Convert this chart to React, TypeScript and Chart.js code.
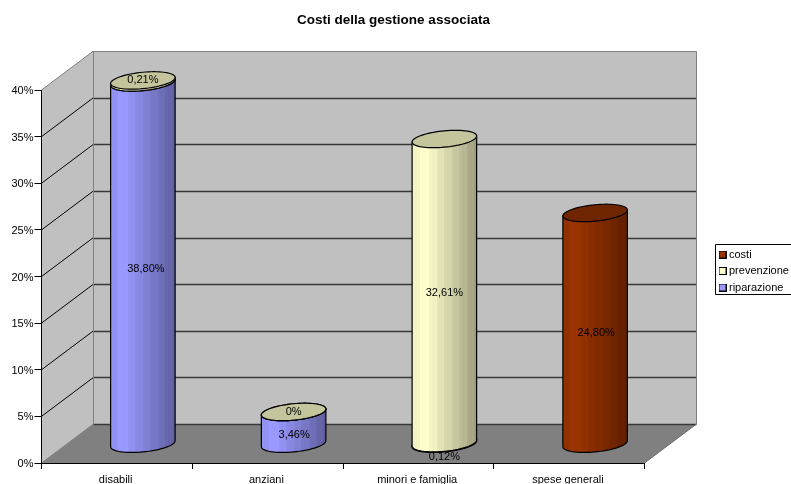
import React, { useEffect, useRef } from "react";
import { Chart, registerables } from "chart.js";

Chart.register(...registerables);

const categories = ["disabili", "anziani", "minori e famiglia", "spese generali"];
const riparazione = [38.8, 3.46, 0.12, null];
const prevenzione = [0.21, 0, 32.61, null];
const costi = [null, null, null, 24.8];
const riparazioneLabels = ["38,80%", "3,46%", "0,12%", null];
const prevenzioneLabels = ["0,21%", "0%", "32,61%", null];
const costiLabels = [null, null, null, "24,80%"];
const yTicksMax = 40;
const yTicksStep = 5;

const FONT = "'Liberation Sans', Arial, sans-serif";
const DX = 52;
const DY = -39;
const RX_TILT = 3;
const RY = 8.2;
const LIFT = 0.7;

const labelNudge = [
  [6.4, 6.7, 14, 0],
  [-1.5, 0, 1.6, 0],
  [0, 0, 0, 5],
];
const labelNudgeX = [
  [3, 0.5, 0, 0],
  [0, 0, 0, 0],
  [0, 0, 0, 1],
];

function rgb(hex: string) {
  const n = parseInt(hex.slice(1), 16);
  return [(n >> 16) & 255, (n >> 8) & 255, n & 255];
}
function shade(hex: string, f: number) {
  const [r, g, b] = rgb(hex);
  const c = (v: number) => Math.max(0, Math.min(255, Math.round(v * f)));
  return `rgb(${c(r)},${c(g)},${c(b)})`;
}

const shadeStops = [
  [0, 0.93],
  [0.2, 1.0],
  [0.45, 0.88],
  [0.75, 0.74],
  [1, 0.6],
];
function shadeAt(t: number) {
  for (let i = 1; i < shadeStops.length; i++) {
    const [a, fa] = shadeStops[i - 1];
    const [b, fb] = shadeStops[i];
    if (t <= b) return fa + ((t - a) / (b - a)) * (fb - fa);
  }
  return 0.6;
}

function sidePath(ctx: CanvasRenderingContext2D, cx: number, a: number, top: number, bot: number) {
  ctx.beginPath();
  ctx.moveTo(cx - a, top + RX_TILT);
  ctx.lineTo(cx - a, bot + RX_TILT);
  for (let i = 0; i <= 36; i++) {
    const t = Math.PI - (i / 36) * Math.PI;
    ctx.lineTo(cx + a * Math.cos(t), bot + RY * Math.sin(t) - RX_TILT * Math.cos(t));
  }
  ctx.lineTo(cx + a, top - RX_TILT);
  ctx.closePath();
}
function ellipsePath(ctx: CanvasRenderingContext2D, cx: number, a: number, y: number) {
  ctx.beginPath();
  for (let i = 0; i <= 72; i++) {
    const t = (i / 72) * Math.PI * 2;
    const px = cx + a * Math.cos(t);
    const py = y + RY * Math.sin(t) - RX_TILT * Math.cos(t);
    if (i === 0) ctx.moveTo(px, py);
    else ctx.lineTo(px, py);
  }
  ctx.closePath();
}

const stage = {
  id: "stage3d",
  beforeDraw(chart: any) {
    const { ctx, scales } = chart;
    const xs = scales.x;
    const ys = scales.y;
    const lg = chart.legend;
    const h = lg.bottom - lg.top;
    lg.left = 716;
    lg.right = 791;
    lg.top = 243.5;
    lg.bottom = 243.5 + h;
    chart.titleBlock.left = 0;
    chart.titleBlock.right = 787;

    const L = xs.left;
    const R = xs.right;
    const y0 = ys.getPixelForValue(0);
    const yM = ys.getPixelForValue(yTicksMax);
    ctx.save();
    ctx.fillStyle = "#c0c0c0";
    ctx.beginPath();
    ctx.rect(L + DX, yM + DY, R - L, y0 - yM);
    ctx.fill();
    ctx.beginPath();
    ctx.moveTo(L, y0);
    ctx.lineTo(L, yM);
    ctx.lineTo(L + DX, yM + DY);
    ctx.lineTo(L + DX, y0 + DY);
    ctx.closePath();
    ctx.fill();
    ctx.fillStyle = "#808080";
    ctx.beginPath();
    ctx.moveTo(L, y0);
    ctx.lineTo(R, y0);
    ctx.lineTo(R + DX, y0 + DY);
    ctx.lineTo(L + DX, y0 + DY);
    ctx.closePath();
    ctx.fill();

    ys.ticks.forEach((t: any) => {
      const y = ys.getPixelForValue(t.value);
      if (t.value !== 0 && t.value !== yTicksMax) {
        ctx.strokeStyle = "#000";
        ctx.lineWidth = 1;
        ctx.beginPath();
        ctx.moveTo(L, y);
        ctx.lineTo(L + DX, y + DY);
        ctx.stroke();
        ctx.strokeStyle = "#383838";
        ctx.lineWidth = 1.4;
        ctx.beginPath();
        ctx.moveTo(L + DX, Math.round(y + DY) + 0.5);
        ctx.lineTo(R + DX, Math.round(y + DY) + 0.5);
        ctx.stroke();
      }
    });
    ctx.strokeStyle = "#383838";
    ctx.lineWidth = 1.4;
    ctx.beginPath();
    ctx.moveTo(L + DX, Math.round(y0 + DY) + 0.5);
    ctx.lineTo(R + DX, Math.round(y0 + DY) + 0.5);
    ctx.stroke();
    ctx.strokeStyle = "#808080";
    ctx.lineWidth = 1;
    ctx.beginPath();
    ctx.moveTo(L, yM);
    ctx.lineTo(L + DX, yM + DY);
    ctx.moveTo(L + DX, y0 + DY);
    ctx.lineTo(L + DX, Math.round(yM + DY) + 0.5);
    ctx.lineTo(R + DX, Math.round(yM + DY) + 0.5);
    ctx.lineTo(R + DX, y0 + DY);
    ctx.moveTo(L, y0);
    ctx.lineTo(L + DX, y0 + DY);
    ctx.stroke();
    ctx.strokeStyle = "#6a6a6a";
    ctx.beginPath();
    ctx.moveTo(R, y0);
    ctx.lineTo(R + DX, y0 + DY);
    ctx.stroke();

    ctx.fillStyle = "#fff";
    ctx.strokeStyle = "#000";
    ctx.lineWidth = 1;
    ctx.beginPath();
    ctx.rect(715.5, 244.5, 76, 50);
    ctx.fill();
    ctx.stroke();
    ctx.restore();
  },
  beforeDatasetsDraw(chart: any) {
    const { ctx } = chart;
    ctx.save();
    const segLabels: any[] = [];
    const labelSets = [riparazioneLabels, prevenzioneLabels, costiLabels];
    chart.data.datasets.forEach((ds: any, di: number) => {
      const meta = chart.getDatasetMeta(di);
      const base = ds.backgroundColor as string;
      meta.data.forEach((bar: any, j: number) => {
        if (ds.data[j] === null) return;
        const cx = bar.x + DX / 2;
        const a = bar.width / 2;
        const top = bar.y + DY / 2 + LIFT;
        const bot = bar.base + DY / 2 + LIFT;
        const grad = ctx.createLinearGradient(cx - a, 0, cx + a, 0);
        const N = 26;
        for (let k = 0; k < N; k++) {
          const f = shadeAt((k + 0.5) / N) + (k % 3 === 0 ? 0.025 : 0);
          const col = shade(base, f);
          grad.addColorStop(k / N, col);
          grad.addColorStop((k + 1) / N, col);
        }
        sidePath(ctx, cx, a, top, bot);
        ctx.fillStyle = grad;
        ctx.fill();
        ctx.strokeStyle = "#000";
        ctx.lineWidth = 1.2;
        ctx.stroke();
        ellipsePath(ctx, cx, a, top);
        ctx.fillStyle = shade(base, di === 2 ? 0.72 : 0.77);
        ctx.fill();
        ctx.stroke();
        const text = labelSets[di][j];
        if (text) segLabels.push({ text, x: cx + labelNudgeX[di][j], y: (top + bot) / 2 + labelNudge[di][j] });
      });
    });
    ctx.fillStyle = "#000";
    ctx.font = `11px ${FONT}`;
    ctx.textAlign = "center";
    ctx.textBaseline = "middle";
    segLabels.forEach((l) => ctx.fillText(l.text, l.x, l.y));
    ctx.restore();
    return false;
  },
};

function swatch(color: string) {
  const c = document.createElement("canvas");
  c.width = 8;
  c.height = 8;
  const g = c.getContext("2d")!;
  g.fillStyle = color;
  g.fillRect(0, 0, 8, 8);
  g.strokeStyle = "#000";
  g.lineWidth = 1;
  g.strokeRect(0.5, 0.5, 7, 7);
  return c;
}

export default function App() {
  const ref = useRef<HTMLCanvasElement>(null);
  useEffect(() => {
    const chart = new Chart(ref.current!, {
      type: "bar",
      data: {
        labels: categories,
        datasets: [
          { label: "riparazione", data: riparazione, backgroundColor: "#9999FF" },
          { label: "prevenzione", data: prevenzione, backgroundColor: "#FFFFCC" },
          { label: "costi", data: costi, backgroundColor: "#993300" },
        ],
      },
      options: {
        responsive: false,
        animation: false,
        categoryPercentage: 1,
        barPercentage: 0.428,
        layout: { padding: { left: 0, right: 146.5, top: 0, bottom: 0 } },
        scales: {
          x: {
            stacked: true,
            grid: { drawOnChartArea: false, color: "#000", tickLength: 6, offset: true },
            border: { color: "#000" },
            ticks: {
              color: "#000",
              font: { family: FONT, size: 11 },
              padding: 4,
              labelOffset: -1.2,
              maxRotation: 0,
              autoSkip: false,
            },
            afterFit: (s: any) => { s.height = 21; },
          },
          y: {
            stacked: true,
            min: 0,
            max: yTicksMax,
            grid: { drawOnChartArea: false, color: "#000", tickLength: 7 },
            border: { color: "#000" },
            ticks: {
              stepSize: yTicksStep,
              color: "#000",
              font: { family: FONT, size: 11 },
              padding: 1,
              labelOffset: 1,
              callback: (v: any) => `${v}%`,
            },
            afterFit: (s: any) => { s.width = 41.5; },
          },
        },
        plugins: {
          title: {
            display: true,
            text: "Costi della gestione associata",
            color: "#000",
            font: { family: FONT, size: 13.5, weight: "bold" },
            padding: { top: 12, bottom: 61.8 },
          },
          legend: {
            position: "chartArea",
            align: "start",
            reverse: true,
            labels: {
              color: "#000",
              font: { family: FONT, size: 11 },
              boxWidth: 2,
              boxHeight: 8,
              padding: 5.5,
              usePointStyle: true,
              generateLabels: (c: any) =>
                Chart.defaults.plugins.legend.labels.generateLabels(c).map((it: any) => ({
                  ...it,
                  pointStyle: swatch(it.fillStyle),
                })),
            },
          },
          tooltip: { enabled: false },
        },
      } as any,
      plugins: [stage],
    });
    return () => chart.destroy();
  }, []);
  return (
    <canvas
      ref={ref}
      width={791}
      height={484}
      style={{ position: "absolute", left: 0, top: 0, display: "block" }}
    />
  );
}
